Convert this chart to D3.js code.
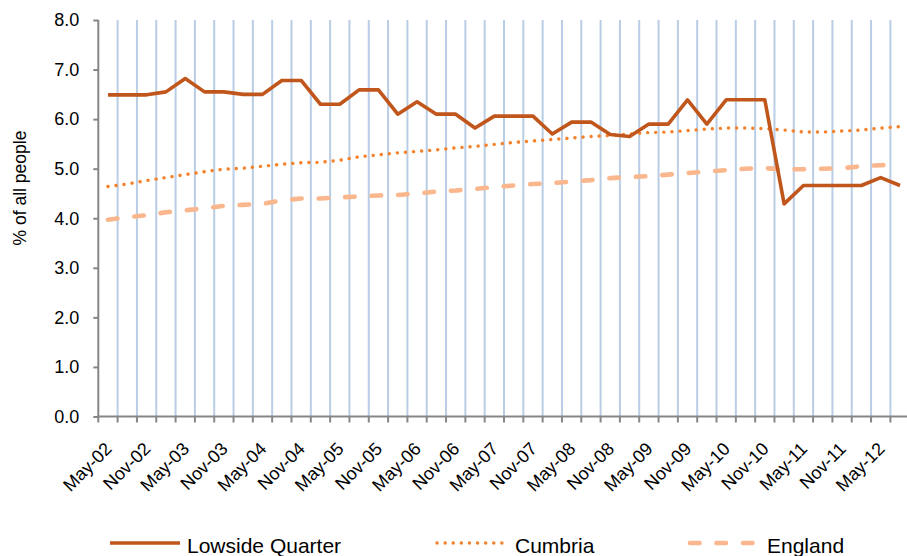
<!DOCTYPE html>
<html>
<head>
<meta charset="utf-8">
<script src="https://cdn.jsdelivr.net/npm/d3@7"></script>
<style>
  body { margin: 0; background: #fff; }
  svg { display: block; font-family: "Liberation Sans", Arial, sans-serif; }
</style>
</head>
<body>
<svg id="chart" width="907" height="556"></svg>
<script>
// quarterly categories, May-02 .. Aug-12
var quarters = ["May-02","Aug-02","Nov-02","Feb-03","May-03","Aug-03","Nov-03","Feb-04",
  "May-04","Aug-04","Nov-04","Feb-05","May-05","Aug-05","Nov-05","Feb-06","May-06","Aug-06",
  "Nov-06","Feb-07","May-07","Aug-07","Nov-07","Feb-08","May-08","Aug-08","Nov-08","Feb-09",
  "May-09","Aug-09","Nov-09","Feb-10","May-10","Aug-10","Nov-10","Feb-11","May-11","Aug-11",
  "Nov-11","Feb-12","May-12","Aug-12"];

var lowside = [6.49,6.49,6.49,6.55,6.82,6.55,6.55,6.50,6.50,6.78,6.78,6.30,6.30,6.59,6.59,6.10,
  6.35,6.10,6.10,5.82,6.06,6.06,6.06,5.70,5.94,5.94,5.69,5.65,5.90,5.90,6.39,5.90,6.39,6.39,
  6.39,4.29,4.66,4.66,4.66,4.66,4.82,4.66];

var cumbria = [4.64,4.69,4.76,4.82,4.88,4.94,4.99,5.01,5.05,5.09,5.12,5.13,5.17,5.24,5.28,5.32,
  5.35,5.38,5.42,5.45,5.49,5.53,5.56,5.59,5.62,5.65,5.67,5.70,5.73,5.74,5.77,5.80,5.82,5.82,
  5.81,5.78,5.74,5.74,5.76,5.78,5.82,5.85];

var england = [3.97,4.02,4.06,4.12,4.16,4.20,4.25,4.27,4.29,4.36,4.40,4.40,4.42,4.44,4.46,4.47,
  4.50,4.54,4.56,4.59,4.63,4.66,4.69,4.71,4.74,4.77,4.81,4.83,4.85,4.88,4.91,4.94,4.97,5.00,
  5.01,4.99,4.99,5.00,5.01,5.05,5.07,5.09];

var yTicks = [0,1,2,3,4,5,6,7,8];

var series = [
  {name: "Lowside Quarter", values: lowside, color: "#C0561B", width: 3.6, dash: null, cap: "butt"},
  {name: "Cumbria", values: cumbria, color: "#F5822A", width: 3.4, dash: "0.1 8", cap: "round"},
  {name: "England", values: england, color: "#FAB68C", width: 4.6, dash: "9.5 17", cap: "round"}
];

var svg = d3.select("#chart");
var plotL = 98.3, plotR = 909.7, plotT = 20, plotB = 416.5;

var x = d3.scaleBand().domain(quarters).range([plotL, plotR]).padding(0);
var y = d3.scaleLinear().domain([0, 8]).range([plotB, plotT]);
var cx = function(q) { return x(q) + x.bandwidth() / 2; };

// vertical gridlines at category boundaries
svg.append("g").selectAll("line")
  .data(quarters.slice(1))
  .enter().append("line")
  .attr("x1", d => x(d)).attr("x2", d => x(d))
  .attr("y1", plotT).attr("y2", plotB)
  .attr("stroke", "#B9CDE5").attr("stroke-width", 2);

// y axis
var yAxis = svg.append("g")
  .attr("transform", "translate(" + plotL + ",0)")
  .call(d3.axisLeft(y).tickValues(yTicks).tickFormat(d3.format(".1f")).tickSize(5).tickPadding(14));
yAxis.select(".domain").attr("stroke", "#868686").attr("stroke-width", 2)
  .attr("d", "M0," + plotT + "V" + plotB);
yAxis.selectAll(".tick line").attr("stroke", "#868686").attr("stroke-width", 2);
yAxis.selectAll(".tick text").attr("font-size", 18).attr("fill", "#000")
  .attr("font-family", "Liberation Sans, Arial, sans-serif");

// x axis: ticks at category boundaries, labels every second quarter
var xg = svg.append("g");
xg.append("line").attr("x1", plotL - 1).attr("x2", plotR).attr("y1", plotB).attr("y2", plotB)
  .attr("stroke", "#868686").attr("stroke-width", 2);
xg.selectAll("line.tk")
  .data(quarters)
  .enter().append("line").attr("class", "tk")
  .attr("x1", d => x(d)).attr("x2", d => x(d))
  .attr("y1", plotB).attr("y2", plotB + 6)
  .attr("stroke", "#868686").attr("stroke-width", 2);
xg.selectAll("text")
  .data(quarters.filter((d, i) => i % 2 === 0))
  .enter().append("text")
  .attr("transform", d => "translate(" + (cx(d) + 5) + "," + 450 + ") rotate(-45)")
  .attr("text-anchor", "end")
  .attr("font-size", 18)
  .attr("fill", "#000")
  .text(d => d);

// y axis title
svg.append("text")
  .attr("transform", "translate(26,188) rotate(-90)")
  .attr("text-anchor", "middle")
  .attr("font-size", 17.5)
  .attr("fill", "#000")
  .text("% of all people");

// lines (England first so Lowside sits on top)
var line = d3.line().x((d, i) => cx(quarters[i])).y(d => y(d));
svg.append("g").selectAll("path")
  .data(series.slice().reverse())
  .enter().append("path")
  .attr("d", d => line(d.values))
  .attr("fill", "none")
  .attr("stroke", d => d.color)
  .attr("stroke-width", d => d.width)
  .attr("stroke-dasharray", d => d.dash)
  .attr("stroke-linecap", d => d.cap)
  .attr("stroke-linejoin", "round");

// legend
var legendX = [110, 437, 690];
var lg = svg.append("g").selectAll("g")
  .data(series)
  .enter().append("g")
  .attr("transform", (d, i) => "translate(" + legendX[i] + ",543)");
lg.append("line")
  .attr("x1", 0).attr("x2", 70).attr("y1", 0).attr("y2", 0)
  .attr("stroke", d => d.color)
  .attr("stroke-width", d => d.width)
  .attr("stroke-dasharray", d => d.dash)
  .attr("stroke-linecap", d => d.cap);
lg.append("text")
  .attr("x", (d, i) => i === 1 ? 78 : 77)
  .attr("y", 10)
  .attr("font-size", 21)
  .attr("fill", "#000")
  .text(d => d.name);
</script>
</body>
</html>
